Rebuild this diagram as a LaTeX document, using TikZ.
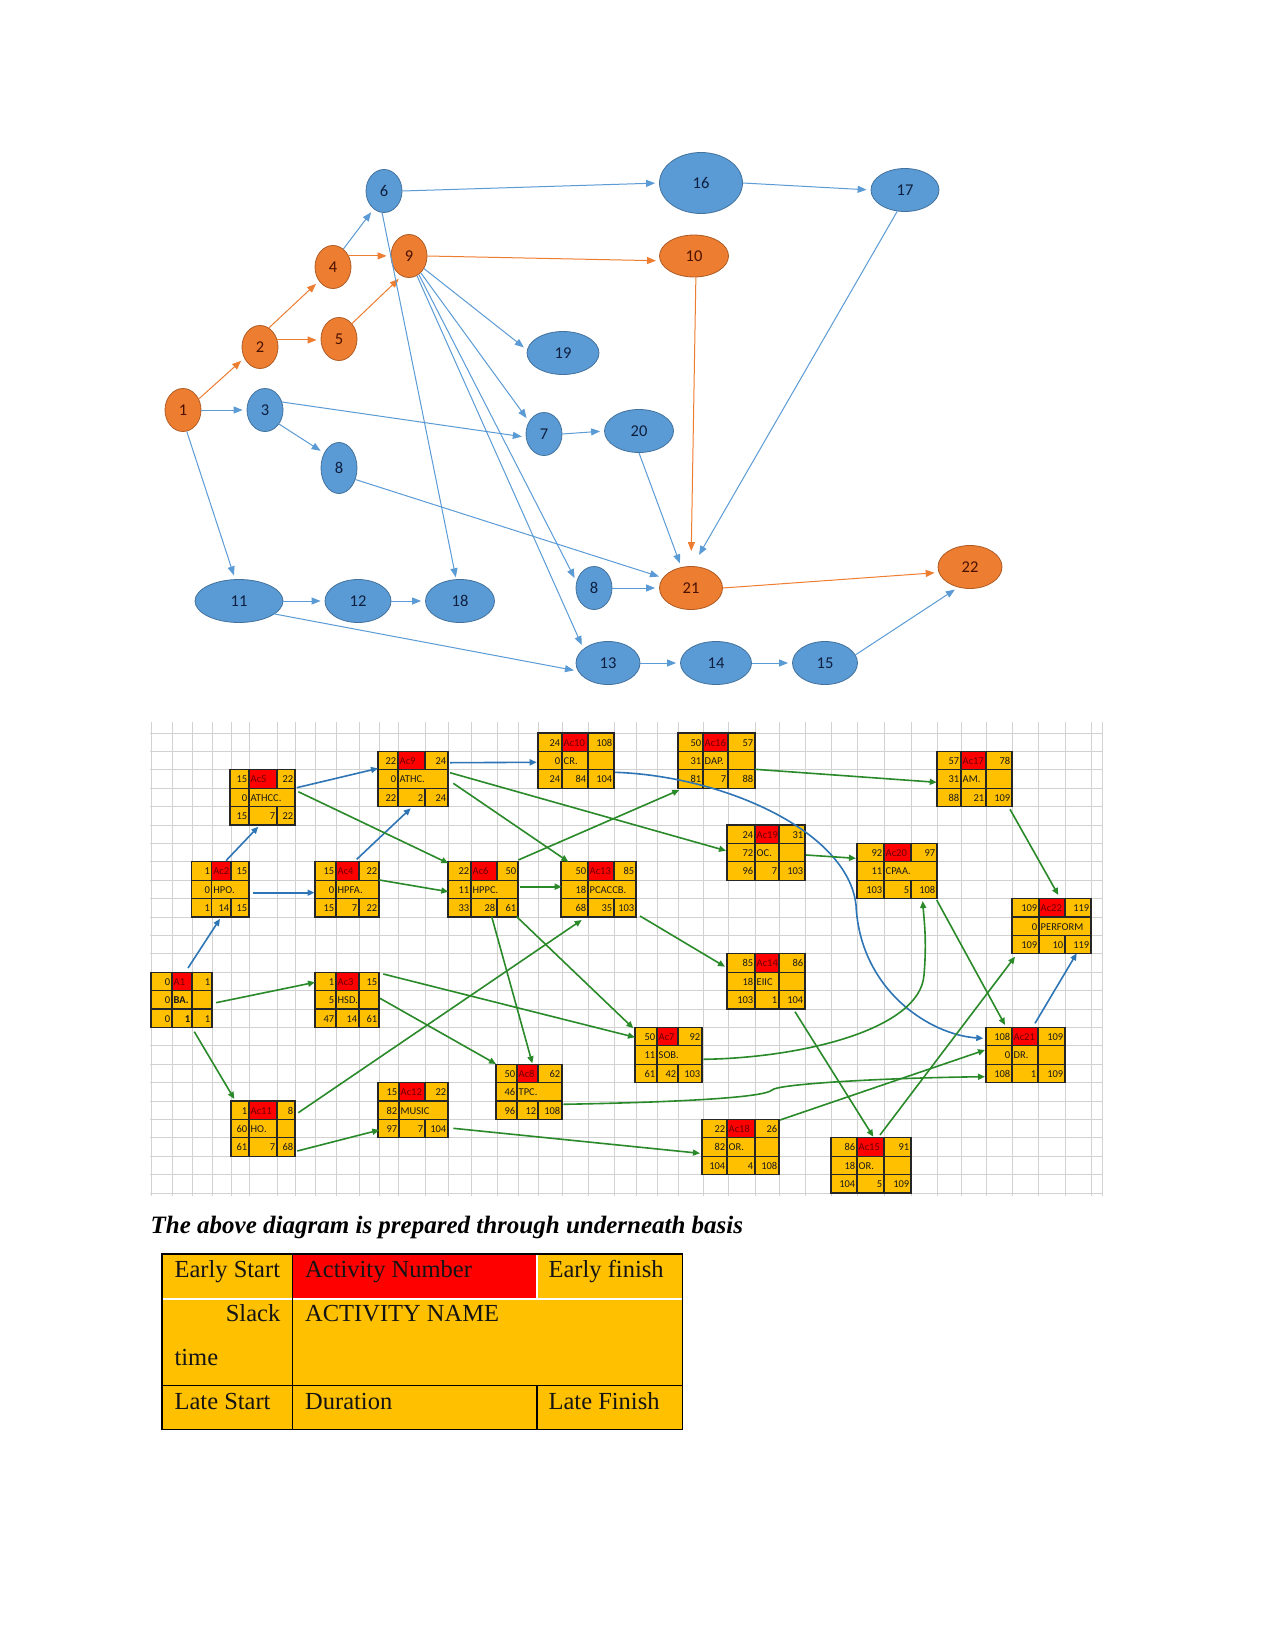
\documentclass[tikz,border=0pt]{standalone}
\usepackage{fontspec}
\setmainfont{Liberation Serif}
\newfontfamily\carlito{Carlito}
\usetikzlibrary{arrows.meta,shapes.geometric}

\definecolor{nblue}{HTML}{5B9BD5}
\definecolor{nblueD}{HTML}{41719C}
\definecolor{norange}{HTML}{ED7D31}
\definecolor{norangeD}{HTML}{AE5A21}
\definecolor{navytext}{HTML}{0E1F3F}
\definecolor{browntext}{HTML}{4A1000}
\definecolor{boxorange}{HTML}{FFC000}
\definecolor{boxred}{HTML}{FF0000}
\definecolor{idtext}{HTML}{6A0000}
\definecolor{gline}{HTML}{2A8A2A}
\definecolor{bline}{HTML}{2E75B6}
\definecolor{gridc}{HTML}{D2D2D2}

\newif\ifdiv

\tikzset{
  bn/.style={ellipse, draw=nblueD, fill=nblue, line width=0.8pt, inner sep=0pt,
    font=\carlito\fontsize{16.5}{19}\selectfont, text=navytext},
  on/.style={ellipse, draw=norangeD, fill=norange, line width=0.8pt, inner sep=0pt,
    font=\carlito\fontsize{16.5}{19}\selectfont, text=browntext},
  ba/.style={draw=nblue, line width=1pt, -{Triangle[length=9pt,width=7pt]}, shorten >=4pt},
  oa/.style={draw=norange, line width=1pt, -{Triangle[length=9pt,width=7pt]}, shorten >=4pt},
  ga/.style={draw=gline, line width=1.6pt, -{Triangle[length=7pt,width=6pt]}},
  bla/.style={draw=bline, line width=1.6pt, -{Triangle[length=7pt,width=6pt]}},
  cellline/.style={draw=black!85, line width=1.2pt},
  bnum/.style={inner sep=0pt, anchor=base east, font=\carlito\fontsize{10.5}{12}\selectfont, text=black!90},
  bname/.style={inner sep=0pt, anchor=base west, font=\carlito\fontsize{10.5}{12}\selectfont, text=black!90},
  bid/.style={inner sep=0pt, anchor=base west, font=\carlito\fontsize{10.5}{12}\selectfont, text=idtext},
  ttext/.style={inner sep=0pt, font=\fontsize{24.5}{28}\selectfont, text=black!92},
}

\newcommand\actgeom[5]{\def\xa{#1}\def\xb{#2}\def\xc{#3}\def\xd{#4}%
  \pgfmathsetmacro\yt{733+18.4*#5}\pgfmathsetmacro\ya{\yt+18.4}%
  \pgfmathsetmacro\yb{\yt+36.8}\pgfmathsetmacro\yd{\yt+55.2}\pgfmathsetmacro\bw{#4-#1}}

\newcommand\actbox[9]{%
  \fill[boxorange] (\xa,\yt) rectangle (\xd,\yd);
  \fill[boxred] (\xb,\yt) rectangle (\xc,\ya);
  \draw[cellline] (\xa,\ya) -- (\xd,\ya) (\xa,\yb) -- (\xd,\yb)
     (\xb,\yt) -- (\xb,\yd) (\xc,\yt) -- (\xc,\ya) (\xc,\yb) -- (\xc,\yd);
  \ifdiv\draw[cellline] (\xc,\ya) -- (\xc,\yb);\fi
  \draw[cellline] (\xa,\yt) rectangle (\xd,\yd);
  \node[bnum] (#1-es) at ({\xb-1.5},{\yt+13}) {#2};
  \node[bid] (#1-id) at ({\xb+1.5},{\yt+13}) {#3};
  \node[bnum] (#1-ef) at ({\xd-1.5},{\yt+13}) {#4};
  \node[bnum] (#1-sl) at ({\xb-1.5},{\ya+13}) {#5};
  \node[bname] (#1-nm) at ({\xb+1.5},{\ya+13}) {#6};
  \node[bnum] (#1-ls) at ({\xb-1.5},{\yb+13}) {#7};
  \node[bnum] (#1-du) at ({\xc-1.5},{\yb+13}) {#8};
  \node[bnum] (#1-lf) at ({\xd-1.5},{\yb+13}) {#9};
  \node[inner sep=0pt, outer sep=0pt, minimum width=\bw pt, minimum height=55.2pt,
        anchor=north west] (#1) at (\xa,\yt) {};
}

\begin{document}
\begin{tikzpicture}[x=1pt,y=-1pt]
\useasboundingbox[fill=white] (0,0) rectangle (1275,1651);

% ================= top network =================
\node[on, minimum width=36pt, minimum height=43pt] (n1) at (183,410) {1};
\node[on, minimum width=36pt, minimum height=43pt] (n2) at (260,347) {2};
\node[bn, minimum width=36pt, minimum height=43pt] (n3) at (265,410) {3};
\node[on, minimum width=36pt, minimum height=43pt] (n4) at (333,267) {4};
\node[on, minimum width=36pt, minimum height=43pt] (n5) at (339,339) {5};
\node[bn, minimum width=36pt, minimum height=43pt] (n6) at (384,191) {6};
\node[bn, minimum width=36pt, minimum height=43pt] (n7) at (544,434) {7};
\node[bn, minimum width=36pt, minimum height=51pt] (n8a) at (339,468) {8};
\node[bn, minimum width=36pt, minimum height=43pt] (n8b) at (594,588) {8};
\node[on, minimum width=36pt, minimum height=43pt] (n9) at (409,256) {9};
\node[on, minimum width=69pt, minimum height=42pt] (n10) at (694,256) {10};
\node[bn, minimum width=88pt, minimum height=43pt] (n11) at (239,601) {11};
\node[bn, minimum width=66pt, minimum height=43pt] (n12) at (358,601) {12};
\node[bn, minimum width=64pt, minimum height=43pt] (n13) at (608,663) {13};
\node[bn, minimum width=71pt, minimum height=43pt] (n14) at (716,663) {14};
\node[bn, minimum width=65pt, minimum height=43pt] (n15) at (825,663) {15};
\node[bn, minimum width=83pt, minimum height=61pt] (n16) at (701,183) {16};
\node[bn, minimum width=68pt, minimum height=43pt] (n17) at (905,190) {17};
\node[bn, minimum width=69pt, minimum height=43pt] (n18) at (460,601) {18};
\node[bn, minimum width=72pt, minimum height=43pt] (n19) at (563,353) {19};
\node[bn, minimum width=69pt, minimum height=43pt] (n20) at (639,431) {20};
\node[on, minimum width=63pt, minimum height=43pt] (n21) at (691,588) {21};
\node[on, minimum width=64pt, minimum height=43pt] (n22) at (970,567) {22};

\draw[oa] (n1.35) -- (n2.215);
\draw[oa] (n2.65) -- (n4.225);
\draw[oa] (n2.22) -- (n2.22 -| n5.west);
\draw[oa] (n4.35) -- (n4.35 -| n9.west);
\draw[oa] (n5.50) -- (n9.250);
\draw[oa] (n9.east) -- (n10.188);
\draw[oa, shorten >=15pt] (n10.-85) -- (n21.north);
\draw[oa] (n21.east) -- (n22.190);

\draw[ba] (n1.east) -- (n3.west);
\draw[ba] (n1.-80) -- (n11.100);
\draw[ba] (n3.25) -- (n7.190);
\draw[ba] (n3.-45) -- (n8a.135);
\draw[ba] (n4.60) -- (n6.240);
\draw[ba] (n6.east) -- (n16.west);
\draw[ba, shorten >=2pt] (n6.265) -- (n18.100);
\draw[ba] (n16.east) -- (n17.west);
\draw[ba, shorten >=13pt] (n17.-110) -- (n21.86);
\draw[ba] (n9.-40) -- (n19.175);
\draw[ba] (n9.-55) -- (n7.140);
\draw[ba] (n9.-62) -- (n8b.160);
\draw[ba] (n9.-68) -- (n13.150);
\draw[ba] (n7.east) -- (n20.west);
\draw[ba] (n20.south) -- (n21.115);
\draw[ba] (n8a.-35) -- (n21.160);
\draw[ba] (n8b.east) -- (n21.west);
\draw[ba] (n11.east) -- (n12.west);
\draw[ba] (n12.east) -- (n18.west);
\draw[ba] (n11.-20) -- (n13.195);
\draw[ba] (n13.east) -- (n14.west);
\draw[ba] (n14.east) -- (n15.west);
\draw[ba] (n15.15) -- (n22.240);

% ================= grid =================
\begin{scope}
\clip (150,722) rectangle (1103,1196);
\foreach \gx in {151,172,192,212,231,249,277,295,315,336,359,379,398,425,448,471,497,518,538,562,588,614,636,657,678,703,728,755,779,805,831,857,884,911,937,961,986,1012,1038,1065,1091,1102}
  \draw[gridc, line width=0.9pt] (\gx,722) -- (\gx,1196);
\foreach \gr in {-1,...,25}
  \draw[gridc, line width=0.9pt] (150,{733+18.4*\gr}) -- (1103,{733+18.4*\gr});
\end{scope}

% ================= activity boxes =================
\divtrue\actgeom{151}{172}{192}{212}{13}\actbox{A1}{0}{A1}{1}{0}{\textbf{BA.}}{0}{\textbf{1}}{1}
\divfalse\actgeom{191.7}{211.7}{231}{249}{7}\actbox{Ac2}{1}{Ac2}{15}{0}{HPO.}{1}{14}{15}
\divtrue\actgeom{315}{336}{359}{379}{13}\actbox{Ac3}{1}{Ac3}{15}{5}{HSD.}{47}{14}{61}
\divfalse\actgeom{315}{336}{359}{379}{7}\actbox{Ac4}{15}{Ac4}{22}{0}{HPFA.}{15}{7}{22}
\divfalse\actgeom{230}{249}{277}{295}{2}\actbox{Ac5}{15}{Ac5}{22}{0}{ATHCC.}{15}{7}{22}
\divfalse\actgeom{448}{471}{497}{518}{7}\actbox{Ac6}{22}{Ac6}{50}{11}{HPPC.}{33}{28}{61}
\divfalse\actgeom{635}{657}{678}{702}{16}\actbox{Ac7}{50}{Ac7}{92}{11}{SOB.}{61}{42}{103}
\divfalse\actgeom{496}{517}{538}{562}{18}\actbox{Ac8}{50}{Ac8}{62}{46}{TPC.}{96}{12}{108}
\divfalse\actgeom{378}{398}{425}{448}{1}\actbox{Ac9}{22}{Ac9}{24}{0}{ATHC.}{22}{2}{24}
\divtrue\actgeom{538}{562}{588}{614}{0}\actbox{Ac10}{24}{Ac10}{108}{0}{CR.}{24}{84}{104}
\divtrue\actgeom{231}{249}{277}{295}{20}\actbox{Ac11}{1}{Ac11}{8}{60}{HO.}{61}{7}{68}
\divfalse\actgeom{378}{399}{425}{448}{19}\actbox{Ac12}{15}{Ac12}{22}{82}{MUSIC}{97}{7}{104}
\divfalse\actgeom{561}{588}{614}{636}{7}\actbox{Ac13}{50}{Ac13}{85}{18}{PCACCB.}{68}{35}{103}
\divtrue\actgeom{727}{755}{779}{805}{12}\actbox{Ac14}{85}{Ac14}{86}{18}{EIIC}{103}{1}{104}
\divtrue\actgeom{831}{857}{884}{911}{22}\actbox{Ac15}{86}{Ac15}{91}{18}{OR.}{104}{5}{109}
\divtrue\actgeom{678}{703}{728}{755}{0}\actbox{Ac16}{50}{Ac16}{57}{31}{DAP.}{81}{7}{88}
\divtrue\actgeom{937}{961}{986}{1012}{1}\actbox{Ac17}{57}{Ac17}{78}{31}{AM.}{88}{21}{109}
\divtrue\actgeom{702}{727}{755}{779}{21}\actbox{Ac18}{22}{Ac18}{26}{82}{OR.}{104}{4}{108}
\divtrue\actgeom{727}{755}{779}{805}{5}\actbox{Ac19}{24}{Ac19}{31}{72}{OC.}{96}{7}{103}
\divfalse\actgeom{857}{884}{911}{937}{6}\actbox{Ac20}{92}{Ac20}{97}{11}{CPAA.}{103}{5}{108}
\divtrue\actgeom{986}{1012}{1038}{1065}{16}\actbox{Ac21}{108}{Ac21}{109}{0}{DR.}{108}{1}{109}
\divfalse\actgeom{1012}{1039}{1065}{1091}{9}\actbox{Ac22}{109}{Ac22}{119}{0}{PERFORM}{109}{10}{119}

% ================= grid arrows =================
% blue (critical)
\draw[bla] ([shift={(37,-4.2)}]A1.north west) -- ([shift={(28.3,57)}]Ac2.north west);
\draw[bla] ([shift={(34.3,-1.1)}]Ac2.north west) -- ([shift={(28.3,56.9)}]Ac5.north west);
\draw[bla] ([shift={(61.6,30.9)}]Ac2.north west) -- ([shift={(-0.5,30.9)}]Ac4.north west);
\draw[bla] ([shift={(66.7,17.9)}]Ac5.north west) -- ([shift={(0,17)}]Ac9.north west);
\draw[bla] ([shift={(41.7,-2.5)}]Ac4.north west) -- ([shift={(32.7,56.9)}]Ac9.north west);
\draw[bla] ([shift={(72,11.3)}]Ac9.north west) -- ([shift={(-1.3,29.3)}]Ac10.north west);
\draw[bla] ([shift={(77,39.3)}]Ac10.north west) .. controls (725,776) and (848,832) .. (856,905)
   .. controls (860,990) and (930,1035) .. ([shift={(-2.7,10.9)}]Ac21.north west);
\draw[bla] ([shift={(49,-4.1)}]Ac21.north west) -- ([shift={(64.7,54.7)}]Ac22.north west);
% green
\draw[ga] ([shift={(68.3,21.9)}]Ac5.north west) -- ([shift={(0.3,1.5)}]Ac6.north west);
\draw[ga] ([shift={(64.3,18.2)}]Ac4.north west) -- ([shift={(0.3,29.9)}]Ac6.north west);
\draw[ga] ([shift={(72,21.3)}]Ac9.north west) -- ([shift={(-1,25.7)}]Ac19.north west);
\draw[ga] ([shift={(75.3,31.9)}]Ac9.north west) -- ([shift={(7.3,-0.1)}]Ac13.north west);
\draw[ga] ([shift={(70.3,-1.8)}]Ac6.north west) -- ([shift={(1.3,57)}]Ac16.north west);
\draw[ga] ([shift={(72,24.9)}]Ac6.north west) -- ([shift={(0.7,24.9)}]Ac13.north west);
\draw[ga] ([shift={(79,54.2)}]Ac13.north west) -- ([shift={(-2,12.9)}]Ac14.north west);
\draw[ga] ([shift={(43.7,54.9)}]Ac6.north west) -- ([shift={(36.3,-0.9)}]Ac8.north west);
\draw[ga] ([shift={(68.7,54.9)}]Ac6.north west) -- ([shift={(-1.7,0.9)}]Ac7.north west);
\draw[ga] ([shift={(67.3,11.7)}]Ac11.north west) -- ([shift={(20.7,58.2)}]Ac13.north west);
\draw[ga] ([shift={(77,36.3)}]Ac16.north west) -- ([shift={(-0.3,30.9)}]Ac17.north west);
\draw[ga] ([shift={(79,30)}]Ac19.north west) -- ([shift={(-1,14.9)}]Ac20.north west);
\draw[ga] ([shift={(73,57.9)}]Ac17.north west) -- ([shift={(46.3,-3.6)}]Ac22.north west);
\draw[ga] ([shift={(68.3,31.9)}]Ac7.north west) .. controls (800,1058) and (920,1030) .. (924,975)
   .. controls (927,940) and (924,920) .. ([shift={(65.7,57.6)}]Ac20.north west);
\draw[ga] ([shift={(79.7,56.6)}]Ac20.north west) -- ([shift={(19,-2.4)}]Ac21.north west);
\draw[ga] ([shift={(49,-2.8)}]Ac15.north west) -- ([shift={(3,58.1)}]Ac22.north west);
\draw[ga] ([shift={(68,57.9)}]Ac14.north west) -- ([shift={(42.3,-1.1)}]Ac15.north west);
\draw[ga] ([shift={(78,0.6)}]Ac18.north west) -- ([shift={(-1,22.6)}]Ac21.north west);
\draw[ga] ([shift={(67.3,40.1)}]Ac8.north west) .. controls (690,1102) and (765,1097) .. (772,1090)
   .. controls (778,1084) and (880,1078) .. ([shift={(-1,49.3)}]Ac21.north west);
\draw[ga] ([shift={(75.3,45.7)}]Ac12.north west) -- ([shift={(-2,33.9)}]Ac18.north west);
\draw[ga] ([shift={(65,30.5)}]A1.north west) -- ([shift={(0,10.1)}]Ac3.north west);
\draw[ga] ([shift={(43.3,59.5)}]A1.north west) -- ([shift={(3.3,-2)}]Ac11.north west);
\draw[ga] ([shift={(66.3,50)}]Ac11.north west) -- ([shift={(1.3,47.4)}]Ac12.north west);
\draw[ga] ([shift={(68.3,1.8)}]Ac3.north west) -- ([shift={(0,9.9)}]Ac7.north west);
\draw[ga] ([shift={(65,26.1)}]Ac3.north west) -- ([shift={(0,-0.2)}]Ac8.north west);

% ================= caption and legend table =================
\node[inner sep=0pt, anchor=base west, font=\bfseries\itshape\fontsize{25}{29}\selectfont]
  (cap) at (150.5,1233) {The above diagram is prepared through underneath basis};

\fill[boxorange] (162.1,1253.9) rectangle (682.2,1429.7);
\fill[boxred] (292.7,1253.9) rectangle (536.9,1299.1);
\draw[white, line width=1.3pt] (162.1,1299.1) -- (682.2,1299.1) (536.9,1253.9) -- (536.9,1299.1);
\draw[black, line width=1.3pt] (162.1,1385.5) -- (682.2,1385.5) (292.7,1253.9) -- (292.7,1429.7)
   (536.9,1385.5) -- (536.9,1429.7);
\draw[black, line width=1.3pt] (162.1,1253.9) rectangle (682.2,1429.7);

\node[ttext, anchor=base west] (t1) at (174.4,1277.5) {Early Start};
\node[ttext, anchor=base west] (t2) at (305,1277.5) {Activity Number};
\node[ttext, anchor=base west] (t3) at (548.4,1277.5) {Early finish};
\node[ttext, anchor=base east] (t4) at (280.5,1321.7) {Slack};
\node[ttext, anchor=base west] (t5) at (174.4,1365.5) {time};
\node[ttext, anchor=base west] (t6) at (305,1321.7) {ACTIVITY NAME};
\node[ttext, anchor=base west] (t7) at (174.4,1409.3) {Late Start};
\node[ttext, anchor=base west] (t8) at (305,1409.3) {Duration};
\node[ttext, anchor=base west] (t9) at (548.4,1409.3) {Late Finish};
\end{tikzpicture}
\end{document}
